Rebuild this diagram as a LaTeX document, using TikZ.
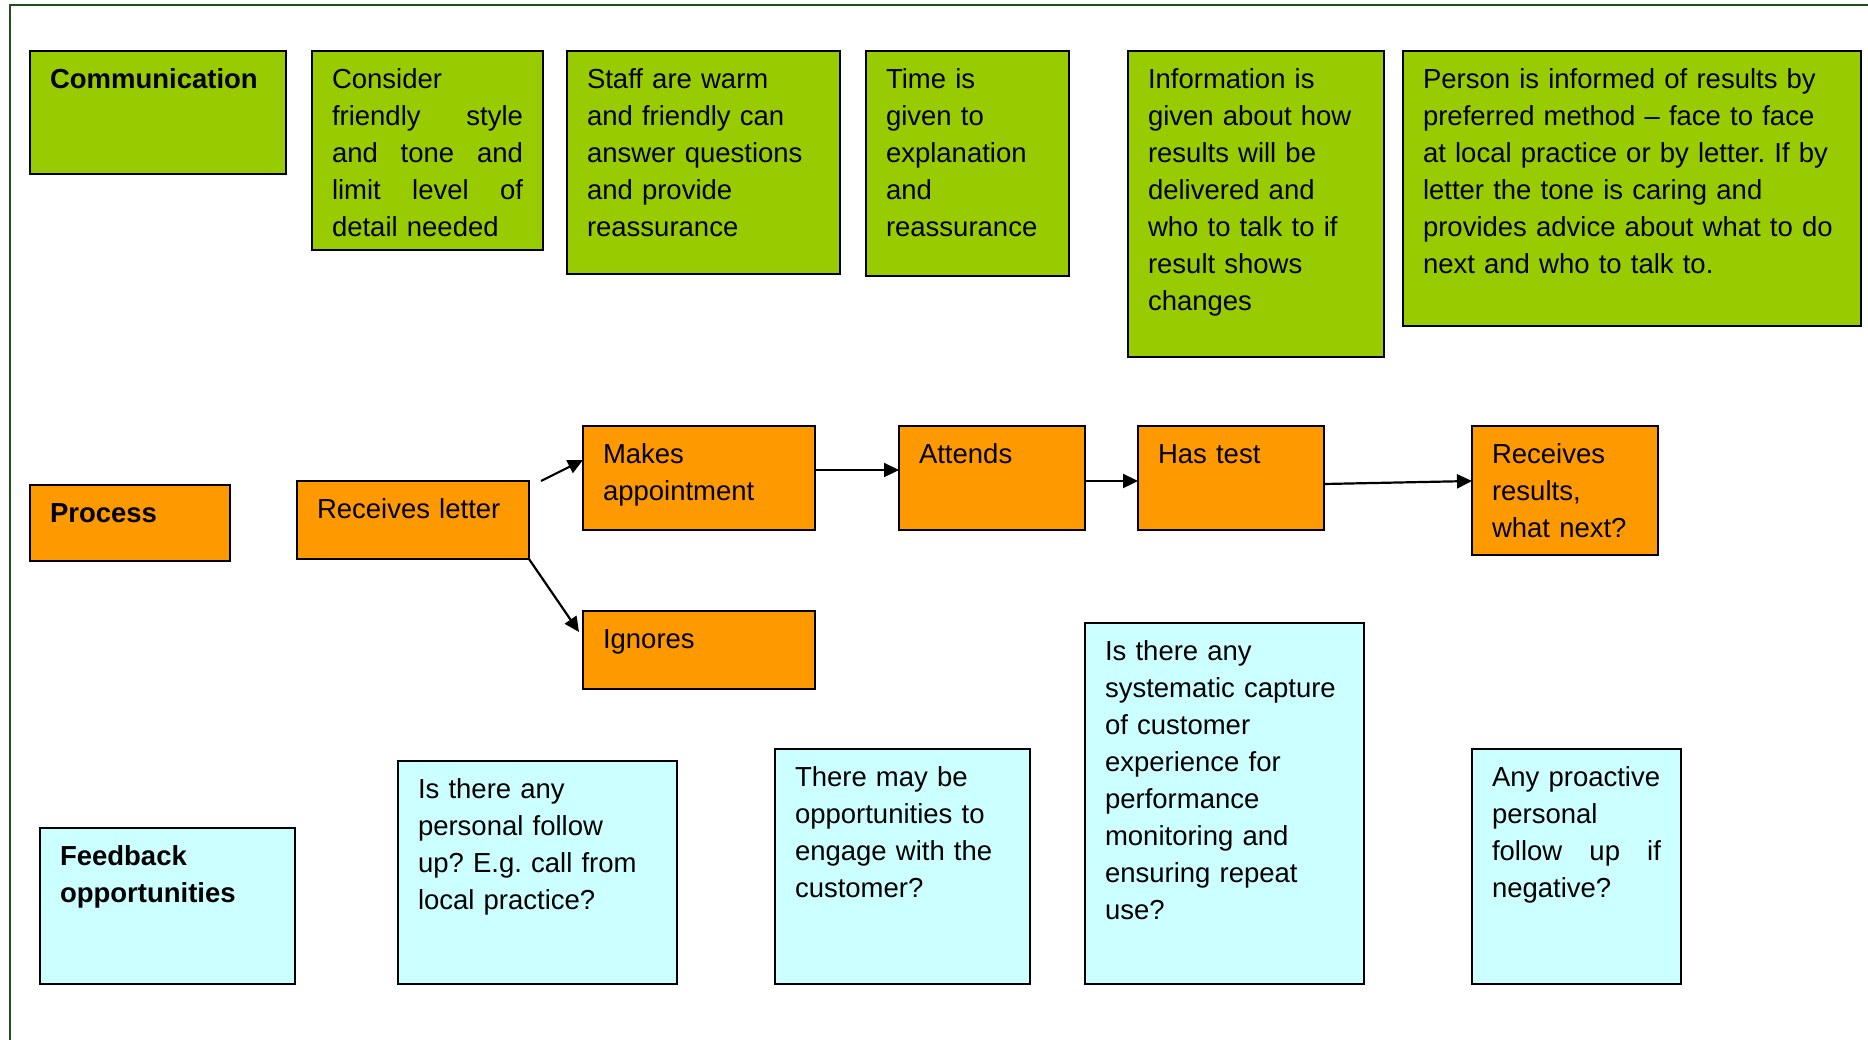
\documentclass[tikz,border=0pt]{standalone}
\usepackage{fontspec}
\setmainfont{Liberation Sans}
\usetikzlibrary{arrows.meta,calc}
\definecolor{cgreen}{HTML}{99CC00}
\definecolor{corange}{HTML}{FF9900}
\definecolor{ccyan}{HTML}{CCFFFF}
\definecolor{cframe}{HTML}{1F4F1F}
\frenchspacing
\tikzset{
  basebox/.style={draw=black, line width=1.6pt, outer sep=0pt, inner sep=0pt},
  gbox/.style={basebox, fill=cgreen},
  obox/.style={basebox, fill=corange},
  cbox/.style={basebox, fill=ccyan},
  txt/.style={inner sep=0pt, outer sep=0pt, align=left, font=\fontsize{27.5pt}{37pt}\selectfont\frenchspacing},
  arr/.style={line width=2.2pt, -{Triangle[length=15pt,width=14pt]}},
  frameline/.style={draw=cframe, line width=2pt}
}
% #1 name, #2 style, #3 x, #4 y, #5 width, #6 height, #7 text
\newcommand\mkbox[7]{%
  \node[#2, anchor=north west, minimum width=#5pt, minimum height=#6pt] (#1) at (#3,#4) {};
  \node[txt, text width=#5pt, anchor=base west] (#1t) at ($(#1.north west)+(20,37)$) {#7};
}
\begin{document}
\begin{tikzpicture}[x=1pt,y=-1pt]
\useasboundingbox (0,0) rectangle (1868,1039);
% frame
\coordinate (fa) at (9.5,1045);
\coordinate (fb) at (9.5,5);
\coordinate (fc) at (1875,5);
\draw[frameline] (fa) -- (fb) -- (fc);

% Communication row
\mkbox{com}{gbox}{30}{51}{256}{123}{\textbf{Communication}}
\mkbox{cons}{gbox}{312}{51}{231}{199}{Consider\\
\makebox[191pt][s]{friendly\hfill style}\\
\makebox[191pt][s]{and\hfill tone\hfill and}\\
\makebox[191pt][s]{limit\hfill level\hfill of}\\
detail needed}
\mkbox{staff}{gbox}{567}{51}{273}{223}{Staff are warm\\and friendly can\\answer questions\\and provide\\reassurance}
\mkbox{time}{gbox}{866}{51}{203}{225}{Time is\\given to\\explanation\\and\\reassurance}
\mkbox{info}{gbox}{1128}{51}{256}{306}{Information is\\given about how\\results will be\\delivered and\\who to talk to if\\result shows\\changes}
\mkbox{pers}{gbox}{1403}{51}{458}{275}{Person is informed of results by\\preferred method -- face to face\\at local practice or by letter. If by\\letter the tone is caring and\\provides advice about what to do\\next and who to talk to.}

% Process row
\mkbox{proc}{obox}{30}{485}{200}{76}{\textbf{Process}}
\mkbox{rl}{obox}{297}{481}{232}{78}{Receives letter}
\mkbox{mk}{obox}{583}{426}{232}{104}{Makes\\appointment}
\mkbox{at}{obox}{899}{426}{186}{104}{Attends}
\mkbox{ht}{obox}{1138}{426}{186}{104}{Has test}
\mkbox{rr}{obox}{1472}{426}{186}{129}{Receives\\results,\\what next?}
\mkbox{ig}{obox}{583}{611}{232}{78}{Ignores}

% connectors
\draw[arr] ([xshift=12pt]rl.north east) -- ([yshift=18pt]mk.west);
\draw[arr] (rl.south east) -- ([xshift=-4pt,yshift=18pt]ig.west);
\draw[arr] ([yshift=8pt]mk.east) -- ([yshift=8pt]at.west);
\draw[arr] ([yshift=-3pt]at.east) -- ([yshift=-3pt]ht.west);
\draw[arr] ([yshift=-6pt]ht.east) -- ([yshift=9.5pt]rr.west);

% Feedback row
\mkbox{fb}{cbox}{40}{828}{255}{156}{\textbf{Feedback}\\\textbf{opportunities}}
\mkbox{pf}{cbox}{398}{761}{279}{223}{Is there any\\personal follow\\up? E.g. call from\\local practice?}
\mkbox{tm}{cbox}{775}{749}{255}{235}{There may be\\opportunities to\\engage with the\\customer?}
\mkbox{sc}{cbox}{1085}{623}{279}{361}{Is there any\\systematic capture\\of customer\\experience for\\performance\\monitoring and\\ensuring repeat\\use?}
\mkbox{ap}{cbox}{1472}{749}{209}{235}{Any proactive\\personal\\\makebox[169pt][s]{follow\hfill up\hfill if}\\negative?}
\end{tikzpicture}
\end{document}
